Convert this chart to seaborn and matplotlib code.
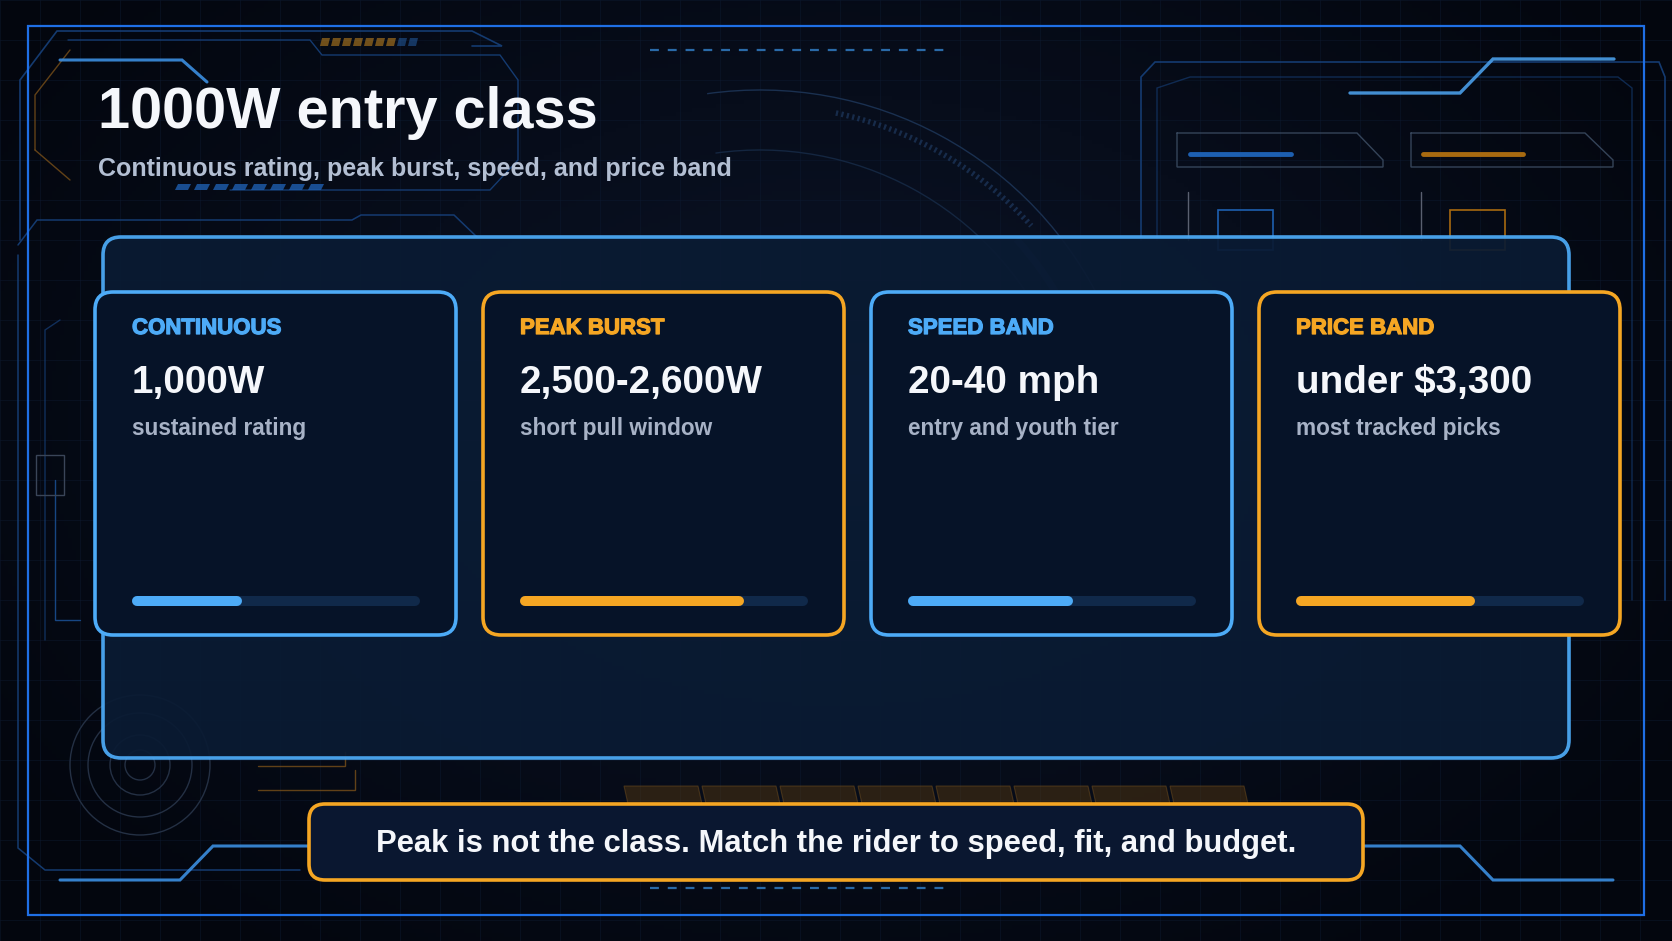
import numpy as np
import matplotlib
matplotlib.use("Agg")
import matplotlib.pyplot as plt
import matplotlib.patheffects as pe
import seaborn as sns
from matplotlib.patches import FancyBboxPatch, Rectangle, Polygon, Arc, Circle

# Card content
labels = ["CONTINUOUS", "PEAK BURST", "SPEED BAND", "PRICE BAND"]
values = ["1,000W", "2,500-2,600W", "20-40 mph", "under $3,300"]
notes = ["sustained rating", "short pull window", "entry and youth tier", "most tracked picks"]
fill_share = [0.36, 0.77, 0.56, 0.61]
accents = ["blue", "orange", "blue", "orange"]

title = "1000W entry class"
subtitle = "Continuous rating, peak burst, speed, and price band"
callout = "Peak is not the class. Match the rider to speed, fit, and budget."

# Colours
BG = "#050a16"
BLUE = "#4dabf7"
ORANGE = "#f5a623"
TRACK = "#10294a"
CARD = "#061328"
PANEL = "#0a1b33"
FRAME = "#1f6fe5"
HUD = "#16407a"
WHITE = "#f5f7fb"
SUB = "#b3bfd3"
NOTE = "#a7b2c6"

W, H = 1672, 941
DPI = 100

sns.set_theme(style="white")
plt.rcParams["font.family"] = ["Liberation Sans", "DejaVu Sans"]

fig = plt.figure(figsize=(W / DPI, H / DPI), dpi=DPI, facecolor=BG)
ax = fig.add_axes([0, 0, 1, 1])
ax.set_xlim(0, W)
ax.set_ylim(H, 0)
ax.axis("off")
ax.set_facecolor(BG)

# soft radial background
yy, xx = np.mgrid[0:H:4, 0:W:4]
r = np.sqrt(((xx - W * 0.5) / (W * 0.6)) ** 2 + ((yy - H * 0.45) / (H * 0.7)) ** 2)
shade = np.clip(1 - r, 0, 1)
bg_rgb = np.zeros(shade.shape + (3,))
bg_rgb[..., 0] = (3 + 8 * shade) / 255
bg_rgb[..., 1] = (6 + 14 * shade) / 255
bg_rgb[..., 2] = (14 + 26 * shade) / 255
ax.imshow(bg_rgb, extent=(0, W, H, 0), zorder=0, aspect="auto")

# faint grid
for gx in range(0, W, 40):
    ax.plot([gx, gx], [0, H], color="#0e1c33", lw=0.5, alpha=0.6, zorder=0.5)
for gy in range(0, H, 40):
    ax.plot([0, W], [gy, gy], color="#0e1c33", lw=0.5, alpha=0.6, zorder=0.5)


def poly(pts, color=HUD, lw=1.2, alpha=0.9, z=1):
    p = np.array(pts)
    ax.plot(p[:, 0], p[:, 1], color=color, lw=lw, alpha=alpha, zorder=z,
            solid_joinstyle="miter")


# outer frame
ax.add_patch(Rectangle((28, 26), 1616, 889, fill=False, ec=FRAME, lw=1.6, zorder=2))

# top-left HUD
poly([(20, 240), (20, 80), (57, 31), (472, 31), (502, 46), (472, 46)])
poly([(68, 40), (310, 40), (322, 55), (500, 55), (518, 80), (518, 160),
      (490, 190), (230, 190)], lw=1.0)
poly([(35, 150), (35, 95), (70, 50)], color="#8a5a1a", lw=1.0, alpha=0.7)
poly([(35, 150), (70, 180)], color="#8a5a1a", lw=1.0, alpha=0.7)
poly([(60, 60), (182, 60), (207, 82)], color="#3b8ee0", lw=2.2)
for k in range(9):
    x0 = 322 + k * 11
    ax.add_patch(Polygon([(x0, 38), (x0 + 8, 38), (x0 + 6, 46), (x0 - 2, 46)],
                         color=ORANGE if k < 7 else "#2a6fc0", alpha=0.45, lw=0, zorder=1))
for k in range(8):
    x0 = 178 + k * 19
    ax.add_patch(Polygon([(x0, 184), (x0 + 13, 184), (x0 + 10, 190), (x0 - 3, 190)],
                         color="#1f5fb0", alpha=0.8, lw=0, zorder=1))
poly([(18, 245), (37, 220), (352, 220), (361, 215), (454, 215), (478, 238)], lw=1.1)

# dashed rules
ax.plot([650, 944], [50, 50], color="#2a6aa8", lw=1.6, ls=(0, (4, 4)), zorder=1)
ax.plot([650, 944], [888, 888], color="#2a6aa8", lw=1.6, ls=(0, (4, 4)), zorder=1)

# ring top-centre (faint)
ax.add_patch(Arc((760, 470), 760, 760, theta1=262, theta2=335, color="#1a3050", lw=1.0, zorder=1))
ax.add_patch(Arc((760, 470), 640, 640, theta1=262, theta2=335, color="#142640", lw=1.0, zorder=1))
ax.add_patch(Arc((760, 470), 730, 730, theta1=282, theta2=318, color="#22406a", lw=4,
                 ls=(0, (0.4, 0.6)), alpha=0.6, zorder=1))
ax.add_patch(Arc((760, 470), 690, 690, theta1=318, theta2=332, color="#22406a", lw=5, alpha=0.5, zorder=1))

# right HUD panel
poly([(1141, 240), (1141, 77), (1155, 62), (1659, 62), (1665, 77), (1665, 600)])
poly([(1157, 240), (1157, 88), (1190, 77), (1618, 77), (1632, 88), (1632, 600)], lw=1.0, alpha=0.6)
poly([(1350, 93), (1460, 93), (1493, 59), (1614, 59)], color="#4a9ee8", lw=2.4)
poly([(1177, 133), (1357, 133), (1383, 160), (1383, 167), (1177, 167), (1177, 133)],
     color="#3a4a60", lw=1.0)
poly([(1411, 133), (1585, 133), (1613, 160), (1613, 167), (1411, 167), (1411, 133)],
     color="#3a4a60", lw=1.0)
ax.plot([1190, 1291], [154, 154], color="#1d5fb0", lw=3.5, zorder=1)
ax.plot([1423, 1523], [154, 154], color="#a86a10", lw=3.5, zorder=1)
ax.add_patch(Rectangle((1218, 210), 55, 40, fill=False, ec="#1d5fb0", lw=1.2, zorder=1))
ax.add_patch(Rectangle((1450, 210), 55, 40, fill=False, ec="#a86a10", lw=1.2, zorder=1))
ax.plot([1188, 1188], [192, 240], color="#5a6070", lw=1.0, zorder=1)
ax.plot([1421, 1421], [192, 240], color="#5a6070", lw=1.0, zorder=1)

# left-side HUD
poly([(18, 255), (18, 848), (45, 870), (300, 870)], lw=1.1)
poly([(45, 640), (45, 330), (60, 320)], lw=1.0, alpha=0.7)
poly([(55, 480), (55, 620), (80, 620)], color="#1a4e90", lw=1.0)
ax.add_patch(Rectangle((36, 455), 28, 40, fill=False, ec="#3a4558", lw=1.0, zorder=1))
for rr in (70, 52, 30, 15):
    ax.add_patch(Circle((140, 765), rr, fill=False, ec="#243044", lw=1.0, zorder=1))

# bottom HUD lines
poly([(60, 880), (180, 880), (213, 846), (322, 846)], color="#3b8ee0", lw=2.2)
poly([(1350, 846), (1460, 846), (1493, 880), (1613, 880)], color="#3b8ee0", lw=2.2)
poly([(258, 790), (355, 790), (355, 770)], color="#8a5a1a", lw=1.0, alpha=0.7)
poly([(258, 766), (345, 766), (345, 752)], color="#8a5a1a", lw=1.0, alpha=0.7)
for k in range(8):
    x0 = 624 + k * 78
    ax.add_patch(Polygon([(x0, 786), (x0 + 74, 786), (x0 + 78, 804), (x0 + 4, 804)],
                         fc="#5a3a10", ec="#7a5520", alpha=0.45, lw=0.8, zorder=1))

# main panel
ax.add_patch(FancyBboxPatch((103, 237), 1466, 521, boxstyle="round,pad=0,rounding_size=18",
                            fc=PANEL, ec=BLUE, lw=2.6, alpha=0.93, zorder=3))

# title block
ax.text(98, 128, title, color=WHITE, fontsize=41.5, fontweight="bold", va="baseline", zorder=6)
ax.text(98, 176, subtitle, color=SUB, fontsize=18, fontweight="bold", va="baseline", zorder=6)

# cards
card_left = [95, 483, 871, 1259]
card_top, card_w, card_h = 292, 361, 343
bar_y, bar_r = 601, 5
for i, lab in enumerate(labels):
    col = BLUE if accents[i] == "blue" else ORANGE
    x0 = card_left[i]
    ax.add_patch(FancyBboxPatch((x0, card_top), card_w, card_h,
                                boxstyle="round,pad=0,rounding_size=18",
                                fc=CARD, ec=col, lw=2.6, zorder=4))
    ax.text(x0 + 37, card_top + 42, lab, color=col, fontsize=16, fontweight="heavy",
            va="baseline", zorder=6,
            path_effects=[pe.withStroke(linewidth=0.9, foreground=col)])
    ax.text(x0 + 37, card_top + 101, values[i], color=WHITE, fontsize=27.8, fontweight="bold",
            va="baseline", zorder=6)
    ax.text(x0 + 37, card_top + 143, notes[i], color=NOTE, fontsize=16.3, fontweight="bold",
            va="baseline", zorder=6)

    # progress bar drawn on its own axes
    bl, br = x0 + 37, x0 + 324.5
    bax = fig.add_axes([bl / W, 1 - (bar_y + 12) / H, (br - bl) / W, 24 / H])
    bax.set_xlim(-bar_r / (br - bl - 2 * bar_r), 1 + bar_r / (br - bl - 2 * bar_r))
    bax.set_ylim(-1, 1)
    bax.axis("off")
    bax.patch.set_alpha(0)
    sns.lineplot(x=[0, 1], y=[0, 0], ax=bax, color=TRACK, linewidth=7.2,
                 solid_capstyle="round", zorder=1)
    sns.lineplot(x=[0, fill_share[i]], y=[0, 0], ax=bax, color=col, linewidth=7.2,
                 solid_capstyle="round", zorder=2)

# callout
ax.add_patch(FancyBboxPatch((309, 804), 1054, 76, boxstyle="round,pad=0,rounding_size=16",
                            fc="#0a1730", ec=ORANGE, lw=2.6, zorder=5))
ax.text(836, 852, callout, color=WHITE, fontsize=22.3, fontweight="bold",
        ha="center", va="baseline", zorder=6)

fig.savefig("out.png", dpi=DPI, facecolor=BG)
